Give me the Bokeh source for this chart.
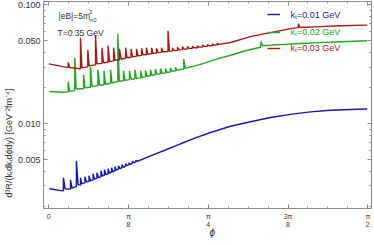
import math
from bokeh.plotting import figure
from bokeh.models import (FixedTicker, LogAxis, LinearAxis, Legend, LegendItem,
                          Label, Title, CustomJSTickFormatter, Range1d)
from bokeh.embed import file_html
from bokeh.resources import INLINE

# ---------------- data (phi [rad], d3R/(kT dkT dphi dy) [GeV^-2 fm^-4]) ----------------
blue_pts = [
    (0.003, 0.00284), (0.067, 0.00273),
    (0.072, 0.00273), (0.072, 0.00352), (0.080, 0.00284),
    (0.107, 0.00282), (0.107, 0.00338), (0.114, 0.00288),
    (0.136, 0.00296), (0.136, 0.00489), (0.144, 0.00308),
    (0.156, 0.00306), (0.156, 0.00352), (0.163, 0.00313),
    (0.178, 0.00320), (0.178, 0.00359), (0.186, 0.00325),
    (0.198, 0.00329), (0.198, 0.00366), (0.205, 0.00332),
    (0.218, 0.00338), (0.218, 0.00380), (0.225, 0.00342),
    (0.237, 0.00350), (0.237, 0.00388), (0.245, 0.00352),
    (0.257, 0.00360), (0.257, 0.00403), (0.264, 0.00364),
    (0.274, 0.00370), (0.274, 0.00411), (0.282, 0.00373),
    (0.292, 0.00380), (0.292, 0.00418), (0.299, 0.00384),
    (0.309, 0.00392), (0.309, 0.00427), (0.316, 0.00395),
    (0.326, 0.00403), (0.326, 0.00435), (0.333, 0.00407),
    (0.343, 0.00415), (0.343, 0.00444), (0.351, 0.00419),
    (0.360, 0.00427), (0.360, 0.00453), (0.368, 0.00431),
    (0.378, 0.00440), (0.378, 0.00462), (0.385, 0.00444),
    (0.395, 0.00453), (0.395, 0.00471), (0.402, 0.00456),
    (0.412, 0.00466), (0.412, 0.00484), (0.420, 0.00471),
    (0.429, 0.00479), (0.429, 0.00493), (0.437, 0.00484),
    (0.501, 0.00538), (0.565, 0.00593), (0.649, 0.00679), (0.722, 0.00762),
    (0.796, 0.00845), (0.895, 0.00953), (0.993, 0.0104), (1.092, 0.0113),
    (1.190, 0.0120), (1.288, 0.0126), (1.386, 0.0130), (1.485, 0.0132),
    (1.568, 0.0133),
]

green_pts = [
    (0.003, 0.0187), (0.067, 0.0184),
    (0.0955, 0.01855), (0.0955, 0.02256), (0.103, 0.0187),
    (0.128, 0.0190), (0.128, 0.0359), (0.135, 0.0197),
    (0.171, 0.0197), (0.171, 0.0258), (0.178, 0.0201),
    (0.205, 0.0203), (0.205, 0.0301), (0.213, 0.0205),
    (0.242, 0.0209), (0.242, 0.0284), (0.250, 0.0211),
    (0.272, 0.0213), (0.272, 0.0279), (0.279, 0.0215),
    (0.304, 0.0219), (0.304, 0.0284), (0.311, 0.0221),
    (0.340, 0.0226), (0.340, 0.0571), (0.347, 0.0228),
    (0.368, 0.0230), (0.368, 0.0279), (0.375, 0.0232),
    (0.397, 0.0235), (0.397, 0.0279), (0.405, 0.0237),
    (0.424, 0.0239), (0.424, 0.0284), (0.432, 0.0241),
    (0.452, 0.0243), (0.452, 0.0279), (0.459, 0.0245),
    (0.476, 0.0248), (0.476, 0.0281), (0.484, 0.0250),
    (0.501, 0.0253), (0.501, 0.0284), (0.508, 0.0255),
    (0.525, 0.0258), (0.525, 0.0287), (0.533, 0.0260),
    (0.550, 0.0263), (0.550, 0.0290), (0.558, 0.0265),
    (0.575, 0.0268), (0.575, 0.0292), (0.582, 0.0270),
    (0.599, 0.0273), (0.599, 0.0295), (0.607, 0.0276),
    (0.624, 0.0279), (0.624, 0.0298), (0.631, 0.0281),
    (0.665, 0.0290), (0.665, 0.0350), (0.672, 0.0292),
    (0.747, 0.0316), (0.821, 0.0348), (0.895, 0.0377), (0.969, 0.0411),
    (1.042, 0.0440), (1.046, 0.0494), (1.051, 0.0453),
    (1.141, 0.0463), (1.239, 0.0473), (1.337, 0.0481), (1.435, 0.0489),
    (1.568, 0.0498),
]

red_pts = [
    (0.000, 0.0319), (0.087, 0.0298),
    (0.0955, 0.0297), (0.0955, 0.0328), (0.103, 0.0297),
    (0.156, 0.0290), (0.156, 0.0528), (0.163, 0.0295),
    (0.192, 0.0301), (0.192, 0.0419), (0.199, 0.0307),
    (0.230, 0.0313), (0.230, 0.0549), (0.237, 0.0319),
    (0.262, 0.0322), (0.262, 0.0436), (0.269, 0.0326),
    (0.292, 0.0329), (0.292, 0.0453), (0.299, 0.0333),
    (0.319, 0.0338), (0.319, 0.0436), (0.326, 0.0341),
    (0.348, 0.0345), (0.348, 0.0427), (0.356, 0.0350),
    (0.378, 0.0355), (0.378, 0.0436), (0.385, 0.0359),
    (0.405, 0.0362), (0.405, 0.0427), (0.412, 0.0366),
    (0.432, 0.0369), (0.432, 0.0427), (0.439, 0.0373),
    (0.457, 0.0376), (0.457, 0.0431), (0.464, 0.0380),
    (0.481, 0.0381), (0.481, 0.0436), (0.488, 0.0386),
    (0.506, 0.0388), (0.506, 0.0436), (0.513, 0.0391),
    (0.530, 0.0393), (0.530, 0.0431), (0.538, 0.0396),
    (0.555, 0.0398), (0.555, 0.0436), (0.562, 0.0403),
    (0.587, 0.0404), (0.587, 0.0605), (0.594, 0.0408),
    (0.609, 0.0409), (0.609, 0.0436), (0.616, 0.0413),
    (0.634, 0.0414), (0.634, 0.0440), (0.641, 0.0418),
    (0.658, 0.0420), (0.658, 0.0444), (0.666, 0.0424),
    (0.683, 0.0425), (0.683, 0.0447), (0.690, 0.0430),
    (0.707, 0.0431), (0.707, 0.0451), (0.715, 0.0436),
    (0.732, 0.0436), (0.732, 0.0453), (0.740, 0.0441),
    (0.757, 0.0442), (0.757, 0.0459), (0.764, 0.0447),
    (0.781, 0.0448), (0.781, 0.0464), (0.789, 0.0453),
    (0.806, 0.0454), (0.806, 0.0470), (0.813, 0.0459),
    (0.830, 0.0460), (0.830, 0.0475), (0.838, 0.0465),
    (0.895, 0.0482), (0.993, 0.0540), (1.092, 0.0584), (1.190, 0.0631),
    (1.229, 0.0643), (1.229, 0.0692), (1.237, 0.0645),
    (1.337, 0.0656), (1.435, 0.0666), (1.568, 0.0675),
]

series_labels = ["k\u209c=0.01 GeV", "k\u209c=0.02 GeV", "k\u209c=0.03 GeV"]
series_colors = ["#1818a8", "#20a820", "#a81818"]

x_tick_values = [0, math.pi / 8, math.pi / 4, 3 * math.pi / 8, math.pi / 2]
x_tick_labels = ["0", "\u03c0\n8", "\u03c0\n4", "3\u03c0\n8", "\u03c0\n2"]
x_minor_ticks = [k * math.pi / 32 for k in range(-1, 17)]
y_tick_values = [0.005, 0.01, 0.05, 0.1]
y_tick_labels = ["0.005", "0.010", "0.050", "0.100"]
y_minor_ticks = [0.002, 0.003, 0.004, 0.006, 0.007, 0.008, 0.009,
                 0.02, 0.03, 0.04, 0.06, 0.07, 0.08, 0.09]

FONT = "Liberation Sans"
FRAME = "#8c8c8c"
TXT = "#333333"

p = figure(width=374, height=245, x_range=Range1d(-0.0261, 1.589),
           y_range=Range1d(0.00194, 0.1066), y_axis_type="log",
           output_backend="svg", toolbar_location=None,
           min_border_left=43, min_border_right=3, min_border_top=1,
           min_border_bottom=37)
p.grid.visible = False
p.outline_line_color = FRAME
p.background_fill_color = "white"
p.border_fill_color = "white"

renderers = []
for pts, col in zip([blue_pts, green_pts, red_pts], series_colors):
    xs = [a for a, b in pts]
    ys = [b for a, b in pts]
    renderers.append(p.line(xs, ys, line_color=col, line_width=1.4))

xt = FixedTicker(ticks=x_tick_values, minor_ticks=x_minor_ticks)
yt = FixedTicker(ticks=y_tick_values, minor_ticks=y_minor_ticks)
xfmt = CustomJSTickFormatter(args=dict(labels=x_tick_labels),
                             code="const k = Math.round(tick/(Math.PI/8)); return (k>=0 && k<labels.length) ? labels[k] : '';")
yfmt = CustomJSTickFormatter(args=dict(vals=y_tick_values, labels=y_tick_labels),
                             code="for (let i=0;i<vals.length;i++){ if (Math.abs(vals[i]-tick)/vals[i] < 1e-6) return labels[i]; } return '';")
blank = CustomJSTickFormatter(code="return '';")


def style(ax):
    ax.axis_line_color = FRAME
    ax.major_tick_line_color = FRAME
    ax.minor_tick_line_color = FRAME
    ax.major_tick_in = 4
    ax.major_tick_out = 0
    ax.minor_tick_in = 2
    ax.minor_tick_out = 0
    ax.major_label_text_font = FONT
    ax.major_label_text_color = TXT


xa = p.xaxis[0]
xa.ticker = xt
xa.formatter = xfmt
style(xa)
xa.major_label_text_font_size = "7px"
xa.major_label_standoff = 4

ya = p.yaxis[0]
ya.ticker = yt
ya.formatter = yfmt
style(ya)
ya.major_label_text_font_size = "9px"
ya.major_label_standoff = 3

top = LinearAxis(ticker=xt, formatter=blank)
style(top)
top.major_label_standoff = 0
top.major_label_text_font_size = "1px"
p.add_layout(top, "above")
right = LogAxis(ticker=yt, formatter=blank)
style(right)
right.major_label_standoff = 0
right.major_label_text_font_size = "1px"
p.add_layout(right, "right")

# axis titles
p.add_layout(Title(text="\u03d5", text_font=FONT, text_font_size="10px",
                   text_font_style="italic", text_color=TXT, align="left",
                   vertical_align="top", offset=166, standoff=-8), "below")
p.add_layout(Title(text="d\u00b3R/(k\u209cdk\u209cd\u03d5dy) [GeV\u207b\u00b2fm\u207b\u2074]",
                   text_font=FONT, text_font_size="9px", text_font_style="normal",
                   text_color=TXT, align="left", offset=11, standoff=2), "left")

# legends (one per series so each text keeps its series colour)
leg_y = [187.3, 169.7, 153.7]
for r, lab, col, ly in zip(renderers, series_labels, series_colors, leg_y):
    lg = Legend(items=[LegendItem(label=lab, renderers=[r])], location=(223.5, ly),
                padding=0, margin=0, spacing=0, glyph_width=13, glyph_height=10,
                label_height=10, label_standoff=11, border_line_color=None,
                background_fill_alpha=0, label_text_font=FONT,
                label_text_font_size="9px", label_text_color=col)
    p.add_layout(lg)

# annotation text
ann = dict(x_units="screen", y_units="screen", text_font=FONT, text_color=TXT,
           text_baseline="middle")
p.add_layout(Label(x=15, y=192.5, text="|eB|=5m", text_font_size="8.5px", **ann))
p.add_layout(Label(x=45.5, y=197, text="2", text_font_size="6px", **ann))
p.add_layout(Label(x=45.5, y=188.5, text="\u03c00", text_font_size="6px", **ann))
p.add_layout(Label(x=14, y=176, text="T=0.35 GeV", text_font_size="8.5px", **ann))

open("out.html", "w").write(file_html(p, INLINE))
